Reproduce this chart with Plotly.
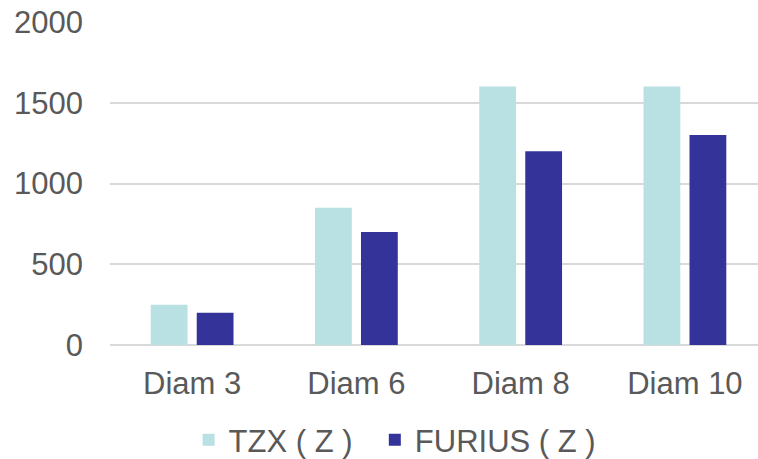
import plotly.graph_objects as go

categories = ["Diam 3", "Diam 6", "Diam 8", "Diam 10"]
tzx = [250, 850, 1600, 1600]
furius = [200, 700, 1200, 1300]
series_names = ["TZX ( Z )\u00a0\u00a0", "FURIUS ( Z )"]

font_family = "Liberation Sans, Arial, sans-serif"
text_color = "#595959"
grid_color = "#D9D9D9"
fs = 31

fig = go.Figure()
fig.add_trace(go.Bar(x=categories, y=tzx, name=series_names[0],
                     marker=dict(color="#B9E0E3", line=dict(width=0))))
fig.add_trace(go.Bar(x=categories, y=furius, name=series_names[1],
                     marker=dict(color="#333399", line=dict(width=0))))

fig.update_layout(
    width=758, height=459,
    margin=dict(l=110, r=0, t=22, b=114),
    paper_bgcolor="white", plot_bgcolor="white",
    barmode="group", bargap=0.44, bargroupgap=0.2,
    font=dict(family=font_family, size=fs, color=text_color),
    showlegend=True,
    legend=dict(orientation="h", x=0.44, xanchor="center",
                yref="container", y=0.041, yanchor="middle",
                font=dict(size=fs, color=text_color), itemwidth=30,
                tracegroupgap=0),
)
fig.update_yaxes(range=[0, 2000], tickvals=[0, 500, 1000, 1500, 2000],
                 showgrid=True, gridcolor=grid_color, gridwidth=1.5,
                 zeroline=True, zerolinecolor=grid_color, zerolinewidth=2,
                 showline=False, ticks="", ticklabelstandoff=26, automargin=False,
                 tickfont=dict(size=fs, color=text_color))
fig.update_xaxes(range=[-0.5, 3.445], showgrid=False, showline=False, ticks="",
                 ticklabelstandoff=17, automargin=False,
                 tickfont=dict(size=fs, color=text_color))

fig.write_html("out.html", config={"displayModeBar": False},
               post_script="document.body.style.margin='0';document.body.style.padding='0';")
